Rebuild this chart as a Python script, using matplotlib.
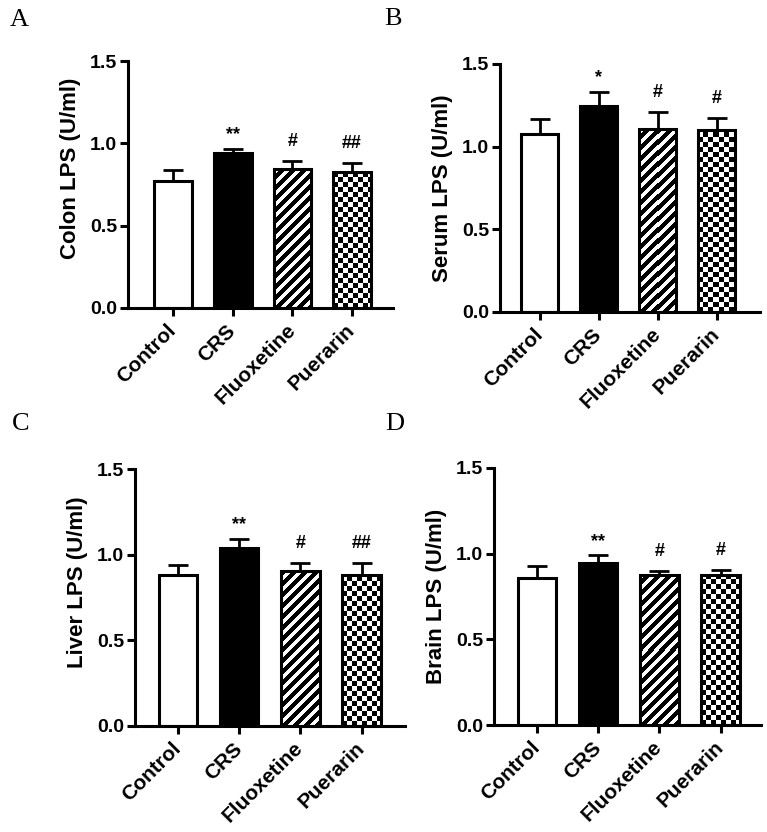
import numpy as np
import matplotlib.pyplot as plt

# --- dados ---
groups = ['Control', 'CRS', 'Fluoxetine', 'Puerarin']

colon_mean = [0.773, 0.941, 0.844, 0.828]
colon_err = [0.065, 0.026, 0.049, 0.052]
colon_sig = ['', '**', '#', '##']

serum_mean = [1.077, 1.246, 1.105, 1.100]
serum_err = [0.093, 0.084, 0.105, 0.074]
serum_sig = ['', '*', '#', '#']

liver_mean = [0.880, 1.036, 0.904, 0.880]
liver_err = [0.059, 0.057, 0.047, 0.071]
liver_sig = ['', '**', '#', '##']

brain_mean = [0.856, 0.947, 0.877, 0.877]
brain_err = [0.074, 0.043, 0.022, 0.028]
brain_sig = ['', '**', '#', '#']

ylabels = ['Colon LPS (U/ml)', 'Serum LPS (U/ml)', 'Liver LPS (U/ml)', 'Brain LPS (U/ml)']
letters = ['A', 'B', 'C', 'D']
yticks = [0.0, 0.5, 1.0, 1.5]

# --- layout (pixels: left, right, top, bottom) ---
W, H = 767, 832
boxes = [(128, 393, 61, 308), (500, 760, 64, 312), (135, 405, 469, 726), (494, 761, 468, 725)]
xlims = [(-0.754, 3.685), (-0.67, 3.73), (-0.70, 3.71), (-0.70, 3.66)]
label_y = [0.565, 0.5, 0.56, 0.5]
letter_pos = [(10, 26), (384, 25), (12, 430), (385, 430)]

plt.rcParams['font.family'] = ['Liberation Sans', 'DejaVu Sans']
LW = 2.2

faces = ['white', 'black', 'none', 'none']
patterns = [None, None, 'stripe', 'checker']
sig_offset = {'*': 7, '#': 11}

fig = plt.figure(figsize=(W / 100, H / 100), dpi=100)


def pattern_fill(ax, bar, kind):
    x0, y0 = bar.get_x(), bar.get_y()
    x1, y1 = x0 + bar.get_width(), y0 + bar.get_height()
    (px0, py0), (px1, py1) = ax.transData.transform([(x0, y0), (x1, y1)])
    w = max(int(round(px1 - px0)), 1)
    h = max(int(round(py1 - py0)), 1)
    cols = np.arange(w)[None, :]
    rows = np.arange(h)[::-1][:, None]
    if kind == 'stripe':
        black = ((cols - rows) % 11) < 6
    else:
        black = ((cols // 5 + rows // 5) % 2) == 0
    img = np.where(black, 0.0, 1.0)
    ax.imshow(img, cmap='gray', vmin=0, vmax=1, extent=(x0, x1, y0, y1),
              interpolation='nearest', aspect='auto', zorder=1.5, clip_path=bar)


datasets = [
    (colon_mean, colon_err, colon_sig),
    (serum_mean, serum_err, serum_sig),
    (liver_mean, liver_err, liver_sig),
    (brain_mean, brain_err, brain_sig),
]

for i, (mean, err, sig) in enumerate(datasets):
    l, r, t, b = boxes[i]
    ax = fig.add_axes([l / W, 1 - b / H, (r - l) / W, (b - t) / H])
    x = np.arange(len(groups))
    ax.set_xlim(*xlims[i])
    ax.set_ylim(0, 1.5)

    ax.errorbar(x, mean, yerr=[np.zeros(len(err)), err], fmt='none', ecolor='black',
                elinewidth=2, capsize=7.5, capthick=2, zorder=1.8)
    bars = ax.bar(x, mean, width=0.63, color=faces, edgecolor='black', linewidth=LW, zorder=2)
    for bar, p in zip(bars, patterns):
        if p:
            pattern_fill(ax, bar, p)

    for xi, m, e, s in zip(x, mean, err, sig):
        if s:
            ax.annotate(s, xy=(xi, m + e), xytext=(0, sig_offset[s[0]]), textcoords='offset points',
                        ha='center', va='baseline', fontsize=13, fontweight='bold')

    ax.set_xlim(*xlims[i])
    ax.set_ylim(0, 1.5)
    ax.spines['top'].set_visible(False)
    ax.spines['right'].set_visible(False)
    ax.spines['left'].set_linewidth(LW)
    ax.spines['bottom'].set_linewidth(LW)
    ax.set_yticks(yticks)
    ax.set_yticklabels([f'{v:.1f}' for v in yticks], fontsize=14, fontweight='bold')
    ax.set_xticks(x)
    ax.set_xticklabels(groups, fontsize=15, fontweight='bold', rotation=45,
                       ha='right', va='center', rotation_mode='anchor')
    ax.tick_params(axis='both', direction='out', length=6, width=LW)
    ax.tick_params(axis='y', pad=2)
    ax.tick_params(axis='x', pad=8)
    ax.set_ylabel(ylabels[i], fontsize=16, fontweight='bold', labelpad=6)
    ax.yaxis.label.set_y(label_y[i])

    lx, ly = letter_pos[i]
    fig.text(lx / W, 1 - ly / H, letters[i], fontsize=19, family='Liberation Serif', va='baseline')

fig.savefig('out.png', dpi=100)
